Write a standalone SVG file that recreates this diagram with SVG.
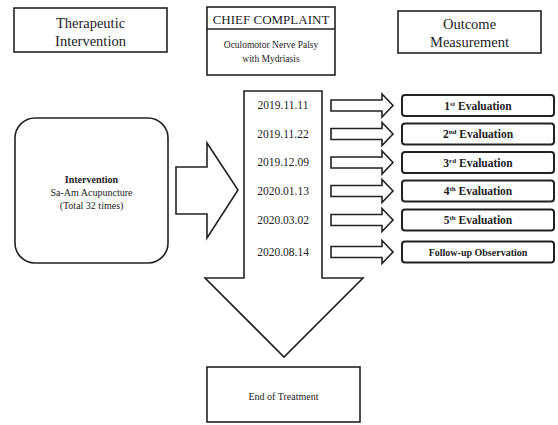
<svg xmlns="http://www.w3.org/2000/svg" width="558" height="425" viewBox="0 0 558 425">
<style>
.box{fill:#fff;stroke:#222;stroke-width:1.6}
.ebox{fill:#fff;stroke:#222;stroke-width:2}
.arr{fill:#fff;stroke:#222;stroke-width:1.6;stroke-linejoin:miter}
text{font-family:"Liberation Serif","Times New Roman",serif;fill:#222;text-anchor:middle}
.h{font-size:14.5px}
.m{font-size:10px}
.d{font-size:11.5px}
.b{font-size:10px;font-weight:bold}
.e{font-size:11.5px;font-weight:bold}
.sup{font-size:7px}
</style>
<rect width="558" height="425" fill="#fff"/>
<g id="connectors">
<path class="arr" d="M244,91 H322 V278 H363 L284,357 L205,278 H244 Z"/>
<path class="arr" d="M176,167 H207 V143 L238,190 L207,238 V214 H176 Z"/>
<path class="arr" d="M331,100 H382 V94 L393,105.5 L382,117 V111 H331 Z"/>
<path class="arr" d="M331,128.5 H382 V122.5 L393,134 L382,145.5 V139.5 H331 Z"/>
<path class="arr" d="M331,157 H382 V151 L393,162.5 L382,174 V168 H331 Z"/>
<path class="arr" d="M331,185.5 H382 V179.5 L393,191 L382,202.5 V196.5 H331 Z"/>
<path class="arr" d="M331,214.5 H382 V208.5 L393,220 L382,231.5 V225.5 H331 Z"/>
<path class="arr" d="M331,246.5 H382 V240.5 L393,252 L382,263.5 V257.5 H331 Z"/>
</g>
<g id="dates">
<text class="d" x="283" y="109">2019.11.11</text>
<text class="d" x="283" y="137.5">2019.11.22</text>
<text class="d" x="283" y="166">2019.12.09</text>
<text class="d" x="283" y="194.5">2020.01.13</text>
<text class="d" x="283" y="223.5">2020.03.02</text>
<text class="d" x="283" y="255.5">2020.08.14</text>
</g>
<g id="therapeutic">
<rect class="box" x="14" y="8" width="153" height="44"/>
<text class="h" x="90.5" y="28">Therapeutic</text>
<text class="h" x="90.5" y="46">Intervention</text>
</g>
<g id="chief">
<rect class="box" x="207" y="7" width="128" height="68"/>
<line x1="207" y1="29" x2="335" y2="29" stroke="#222" stroke-width="1.6"/>
<text x="271" y="23.5" style="font-size:13px">CHIEF COMPLAINT</text>
<text x="271" y="48" style="font-size:9.5px">Oculomotor Nerve Palsy</text>
<text x="271" y="62" style="font-size:9.5px">with Mydriasis</text>
</g>
<g id="outcome">
<rect class="box" x="398" y="11" width="143" height="42"/>
<text class="h" x="469.5" y="29">Outcome</text>
<text class="h" x="469.5" y="47">Measurement</text>
</g>
<g id="intervention">
<rect class="box" x="15" y="118" width="153" height="145" rx="20"/>
<text class="b" x="91.5" y="183">Intervention</text>
<text class="m" x="91.5" y="196">Sa-Am Acupuncture</text>
<text class="m" x="91.5" y="209">(Total 32 times)</text>
</g>
<g id="end">
<rect class="box" x="207" y="367" width="153" height="55"/>
<text class="m" x="283.5" y="400">End of Treatment</text>
</g>
<g id="eval1">
<rect class="ebox" x="402" y="95" width="152" height="21" rx="3"/>
<text class="e" x="478" y="109.5">1<tspan class="sup" dy="-4">st</tspan><tspan dy="4"> Evaluation</tspan></text>
</g>
<g id="eval2">
<rect class="ebox" x="402" y="123.5" width="152" height="21" rx="3"/>
<text class="e" x="478" y="138">2<tspan class="sup" dy="-4">nd</tspan><tspan dy="4"> Evaluation</tspan></text>
</g>
<g id="eval3">
<rect class="ebox" x="402" y="152" width="152" height="21" rx="3"/>
<text class="e" x="478" y="166.5">3<tspan class="sup" dy="-4">rd</tspan><tspan dy="4"> Evaluation</tspan></text>
</g>
<g id="eval4">
<rect class="ebox" x="402" y="180.5" width="152" height="21" rx="3"/>
<text class="e" x="478" y="195">4<tspan class="sup" dy="-4">th</tspan><tspan dy="4"> Evaluation</tspan></text>
</g>
<g id="eval5">
<rect class="ebox" x="402" y="209.5" width="152" height="21" rx="3"/>
<text class="e" x="478" y="224">5<tspan class="sup" dy="-4">th</tspan><tspan dy="4"> Evaluation</tspan></text>
</g>
<g id="followup">
<rect class="ebox" x="402" y="241.5" width="152" height="21" rx="3"/>
<text class="b" x="478" y="255.5">Follow-up Observation</text>
</g>
</svg>
